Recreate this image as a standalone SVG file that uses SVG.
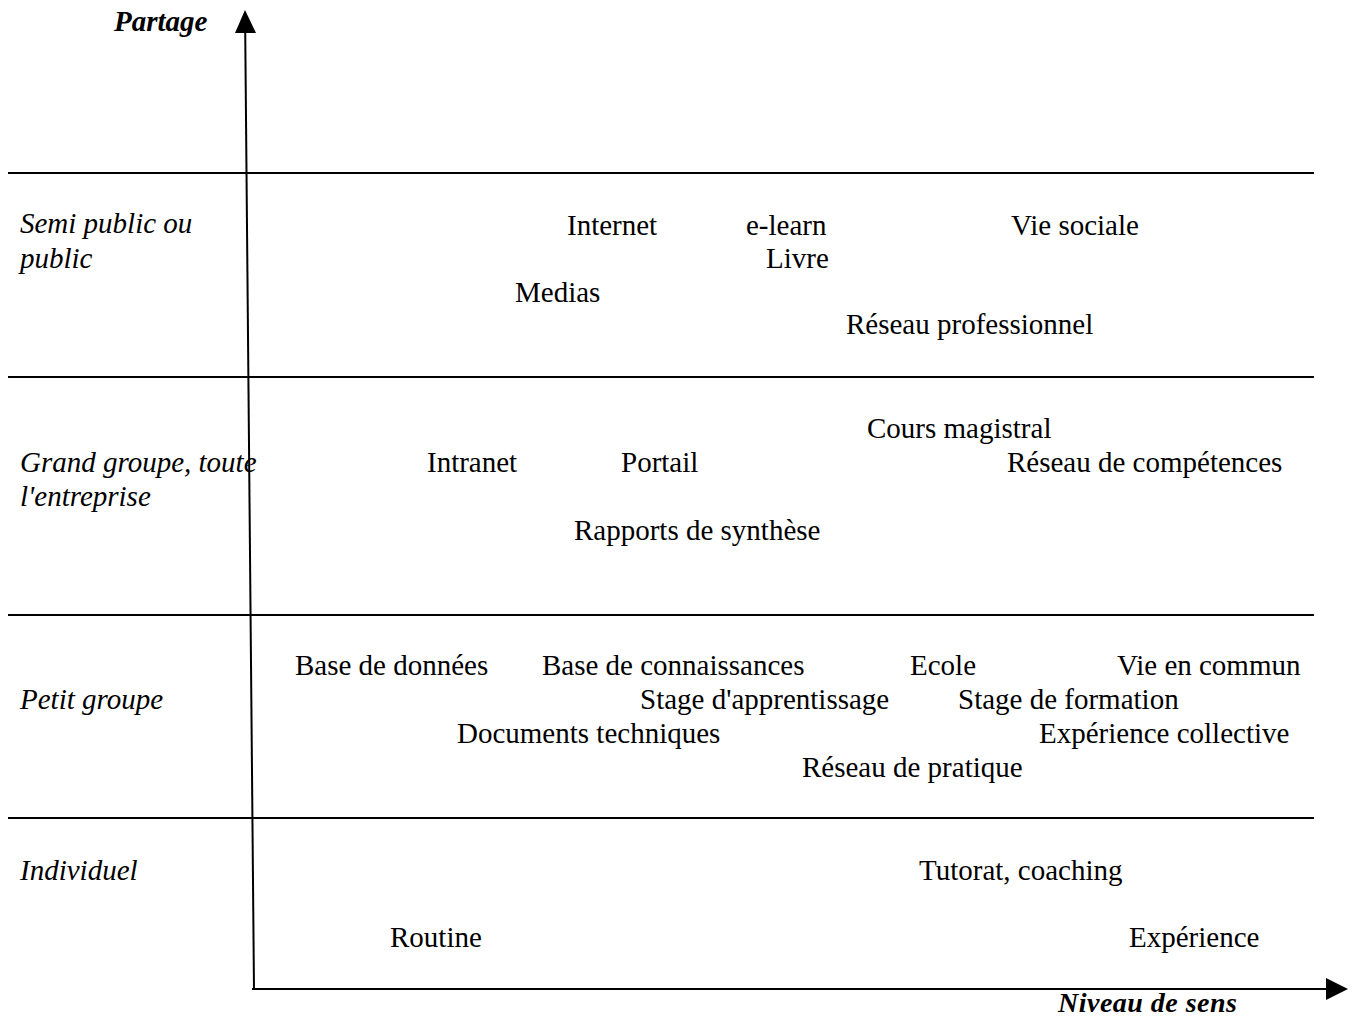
<svg xmlns="http://www.w3.org/2000/svg" width="1357" height="1018" viewBox="0 0 1357 1018">
<style>
text{font-family:"Liberation Serif","Times New Roman",serif;font-size:29px;fill:#000}
.it{font-style:italic}
.bi{font-style:italic;font-weight:bold}
.ln{stroke:#000;stroke-width:2;fill:none}
</style>
<rect width="1357" height="1018" fill="#fff"/>
<g id="connectors">
<line class="ln" x1="8" y1="173" x2="1314" y2="173"/>
<line class="ln" x1="8" y1="377" x2="1314" y2="377"/>
<line class="ln" x1="8" y1="615" x2="1314" y2="615"/>
<line class="ln" x1="8" y1="818" x2="1314" y2="818"/>
<line class="ln" x1="254" y1="990" x2="245.2" y2="30"/>
<polygon points="245,10 235,33 256,33" fill="#000"/>
<line class="ln" x1="252" y1="989" x2="1326" y2="989"/>
<polygon points="1348,989 1326,978 1326,1000" fill="#000"/>
</g>
<g id="axis-labels">
<text class="bi" x="114" y="31">Partage</text>
<text class="bi" x="1058" y="1011.5" style="font-size:28px" textLength="179" lengthAdjust="spacing">Niveau de sens</text>
</g>
<g id="rows">
<text class="it" x="20" y="233">Semi public ou</text>
<text class="it" x="20" y="268">public</text>
<text class="it" x="20" y="472">Grand groupe, toute</text>
<text class="it" x="20" y="506">l'entreprise</text>
<text class="it" x="20" y="709">Petit groupe</text>
<text class="it" x="20" y="880">Individuel</text>
</g>
<g id="items">
<text x="567" y="235">Internet</text>
<text x="746" y="235">e-learn</text>
<text x="1011" y="235">Vie sociale</text>
<text x="766" y="268">Livre</text>
<text x="515" y="302">Medias</text>
<text x="846" y="334">Réseau professionnel</text>
<text x="867" y="438">Cours magistral</text>
<text x="427" y="472">Intranet</text>
<text x="621" y="472">Portail</text>
<text x="1007" y="472">Réseau de compétences</text>
<text x="574" y="540">Rapports de synthèse</text>
<text x="295" y="675">Base de données</text>
<text x="542" y="675">Base de connaissances</text>
<text x="910" y="675">Ecole</text>
<text x="1117" y="675">Vie en commun</text>
<text x="640" y="709">Stage d'apprentissage</text>
<text x="958" y="709">Stage de formation</text>
<text x="457" y="743">Documents techniques</text>
<text x="1039" y="743">Expérience collective</text>
<text x="802" y="777">Réseau de pratique</text>
<text x="919" y="880">Tutorat, coaching</text>
<text x="390" y="947">Routine</text>
<text x="1129" y="947">Expérience</text>
</g>
</svg>
